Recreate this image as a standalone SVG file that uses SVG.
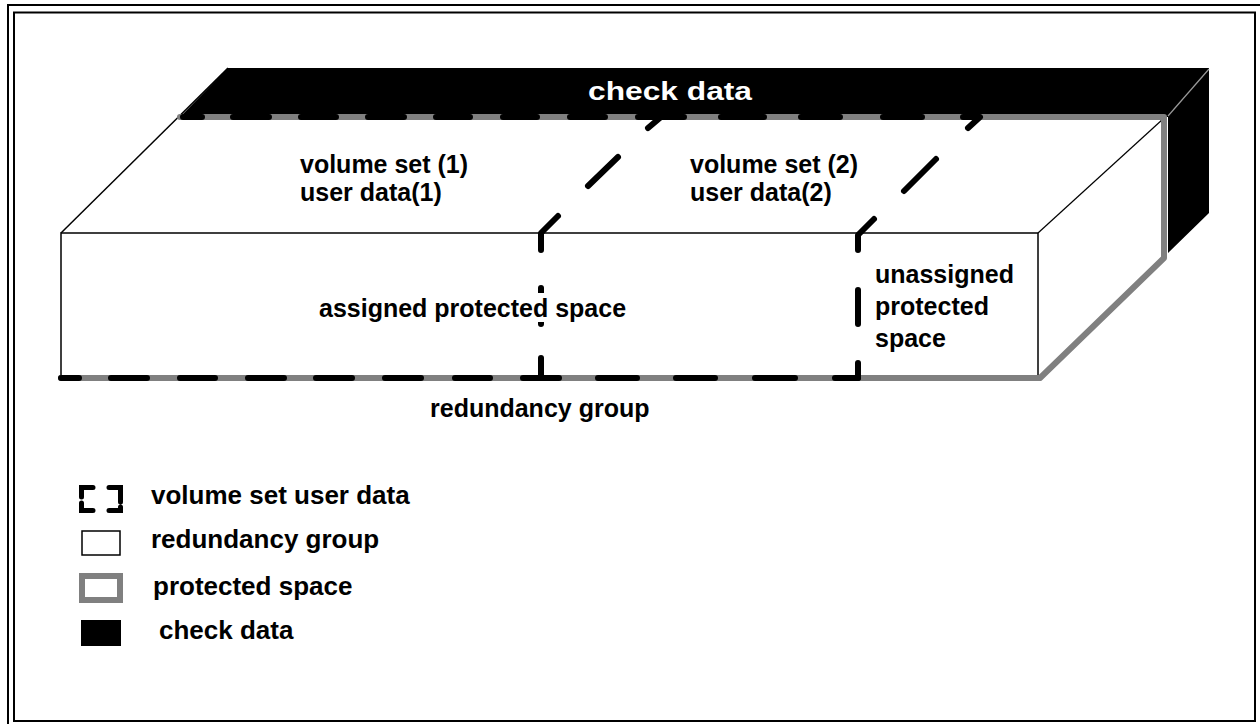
<svg xmlns="http://www.w3.org/2000/svg" width="1260" height="724" viewBox="0 0 1260 724">
  <style>
    .lbl { font-family: "Liberation Sans", Arial, sans-serif; font-weight: bold; font-size: 25px; fill: #000; }
    .leg { font-family: "Liberation Sans", Arial, sans-serif; font-weight: bold; font-size: 26px; fill: #000; }
    .edge { fill: none; stroke: #000; stroke-width: 1.5; }
    .prot { fill: none; stroke: #808080; stroke-width: 6; stroke-linejoin: round; stroke-linecap: round; }
    .vset { fill: none; stroke: #000; stroke-width: 6; stroke-linecap: round; stroke-linejoin: round; }
  </style>

  <rect x="0" y="0" width="1260" height="724" fill="#fff"/>

  <!-- double page frame -->
  <g id="frame" fill="none" stroke="#000" stroke-width="2">
    <rect x="8" y="5" width="1262" height="732"/>
    <rect x="14" y="12.5" width="1241" height="708.5"/>
  </g>

  <!-- redundancy group drawn as a box -->
  <g id="redundancy-group">
    <!-- check data: top band and right side -->
    <polygon id="check-data" points="228,68 1209,68 1209,213 1168,253 1168,117 180,117" fill="#000"/>
    <line x1="1168" y1="116" x2="1209" y2="69" stroke="#9a9a9a" stroke-width="1.2"/>
    <!-- top face -->
    <polygon points="180,117 1164,117 1038,233 61,233" fill="#fff"/>
    <!-- right face -->
    <polygon points="1038,233 1164,117 1164,258 1040,378 1038,378" fill="#fff"/>
    <!-- front face -->
    <rect x="61" y="233" width="977" height="145" fill="#fff" class="edge"/>
    <line class="edge" x1="228" y1="68" x2="61" y2="233"/>
    <line x1="1038" y1="233" x2="1163" y2="119" stroke="#000" stroke-width="1.2"/>
  </g>

  <!-- protected space outline -->
  <g id="protected-space">
    <path class="prot" d="M180,117 H1164 V258 L1040,378 H61"/>
  </g>

  <!-- volume set boundaries -->
  <g id="connectors">
    <g id="volume-set-1" class="vset">
      <path d="M183,117 H202 M233,117 H269 M301,117 H336 M368,117 H404 M436,117 H470 M503,117 H537 M570,117 H605 M638,117 H684"/>
      <path d="M648,128 L661,117"/>
      <path d="M588,186 L618,157"/>
      <path d="M558,216 L541,233 V250"/>
      <path d="M541,288 V324"/>
      <path d="M541,358 V378"/>
      <path d="M61,378 H79 M111,378 H147 M180,378 H215 M248,378 H284 M316,378 H352 M385,378 H421 M455,378 H490 M523,378 H559"/>
    </g>
    <g id="volume-set-2" class="vset">
      <path d="M721,117 H764 M801,117 H840 M883,117 H922"/>
      <path d="M968,128 L980,117 H963"/>
      <path d="M904,191 L936,159"/>
      <path d="M874,219 L858,235 V250"/>
      <path d="M858,290 V324"/>
      <path d="M858,363 V378"/>
      <path d="M598,378 H637 M676,378 H715 M755,378 H795 M835,378 H858"/>
    </g>
  </g>

  <!-- labels -->
  <g id="labels">
    <text x="588" y="100" class="lbl" fill="#fff" style="fill:#fff" textLength="164" lengthAdjust="spacingAndGlyphs">check data</text>
    <text x="300" y="173" class="lbl">volume set (1)</text>
    <text x="300" y="201" class="lbl">user data(1)</text>
    <text x="690" y="173" class="lbl">volume set (2)</text>
    <text x="690" y="201" class="lbl">user data(2)</text>
    <rect x="318" y="293" width="328" height="29" fill="#fff"/>
    <text x="319" y="317" class="lbl">assigned protected space</text>
    <text x="875" y="283" class="lbl">unassigned</text>
    <text x="875" y="315" class="lbl">protected</text>
    <text x="875" y="347" class="lbl">space</text>
    <text x="430" y="417" class="lbl">redundancy group</text>
  </g>

  <!-- legend -->
  <g id="legend-volume-set">
    <path d="M93,487.5 H81.5 V497 M81.5,503 V510.5 H93 M109,487.5 H120.5 V502 M120.5,507 V510.5 H109" fill="none" stroke="#000" stroke-width="5" stroke-linecap="round"/>
    <text x="151" y="504" class="leg">volume set user data</text>
  </g>
  <g id="legend-redundancy-group">
    <rect x="82" y="531" width="38" height="24" fill="#fff" stroke="#000" stroke-width="1.5"/>
    <text x="151" y="548" class="leg">redundancy group</text>
  </g>
  <g id="legend-protected-space">
    <rect x="82" y="576" width="38" height="24" fill="#fff" stroke="#808080" stroke-width="6"/>
    <text x="153" y="595" class="leg">protected space</text>
  </g>
  <g id="legend-check-data">
    <rect x="81" y="620" width="40" height="26" fill="#000"/>
    <text x="159" y="639" class="leg">check data</text>
  </g>
</svg>
